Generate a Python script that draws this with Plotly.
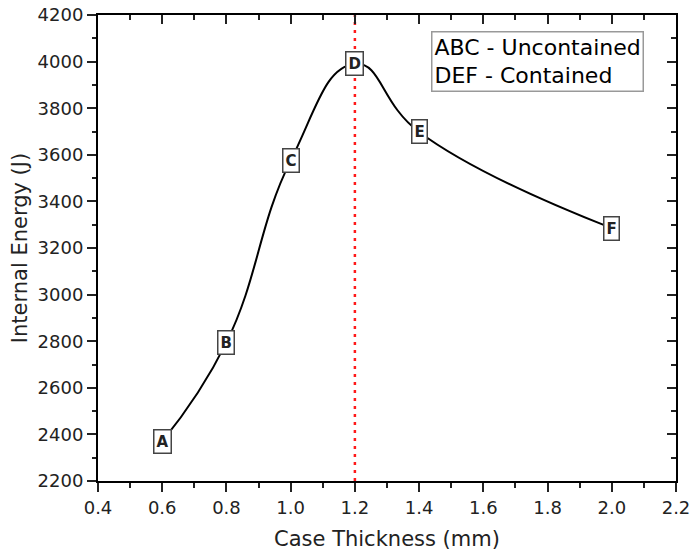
import plotly.graph_objects as go

# Data
point_labels = ["A", "B", "C", "D", "E", "F"]
thickness = [0.6, 0.8, 1.0, 1.2, 1.4, 2.0]
energy = [2370, 2795, 3575, 3990, 3698, 3285]
x_ticks = [0.4, 0.6, 0.8, 1.0, 1.2, 1.4, 1.6, 1.8, 2.0, 2.2]
y_ticks = [2200, 2400, 2600, 2800, 3000, 3200, 3400, 3600, 3800, 4000, 4200]
note_lines = ["ABC - Uncontained", "DEF - Contained"]

FONT = "DejaVu Sans"
peak_x = thickness[energy.index(max(energy))]

fig = go.Figure()

fig.add_trace(go.Scatter(
    x=thickness, y=energy, mode="lines",
    line=dict(color="black", width=2, shape="spline", smoothing=1.3),
    showlegend=False, hoverinfo="skip",
))
# dummy trace for top/right mirrored inside ticks
fig.add_trace(go.Scatter(
    x=thickness, y=energy, mode="markers", xaxis="x2", yaxis="y2",
    marker=dict(opacity=0), showlegend=False, hoverinfo="skip",
))

# red dotted vertical line at peak
fig.add_shape(type="line", x0=peak_x, x1=peak_x, y0=0, y1=1,
              xref="x", yref="paper", layer="below",
              line=dict(color="#ff1a1a", width=2.5, dash="3px,5px"))

# boxed point labels
for lab, xv, yv in zip(point_labels, thickness, energy):
    fig.add_annotation(
        x=xv, y=yv, text=f"<b>{lab}</b>", showarrow=False,
        font=dict(family=FONT, size=15, color="#222"),
        bgcolor="white", bordercolor="#444", borderwidth=1.5, borderpad=2,
    )

# note box
fig.add_annotation(
    x=0.576, y=0.966, xref="paper", yref="paper", xanchor="left", yanchor="top",
    text="<br>".join(note_lines), align="left", showarrow=False,
    font=dict(family=FONT, size=22, color="black"),
    bgcolor="white", bordercolor="#999", borderwidth=1.5, borderpad=2,
)

axis_common = dict(
    showgrid=False, zeroline=False, automargin=False,
    linecolor="black", linewidth=2,
    ticks="outside", ticklen=9, tickwidth=2, tickcolor="#222",
    tickfont=dict(family=FONT, size=18, color="#222"),
)

fig.update_layout(
    width=691, height=554,
    margin=dict(l=98, r=15, t=15, b=73),
    paper_bgcolor="white", plot_bgcolor="white",
    font=dict(family=FONT, color="#222"),
    showlegend=False,
    xaxis=dict(
        **axis_common,
        range=[x_ticks[0], x_ticks[-1]], tickvals=x_ticks, tickformat=".1f",
        mirror=True,
        minor=dict(ticks="outside", ticklen=4.5, tickwidth=2, tickcolor="#222", dtick=0.1),
        title=dict(text="Case Thickness (mm)", font=dict(family=FONT, size=21, color="#222"), standoff=15),
    ),
    yaxis=dict(
        **axis_common,
        range=[y_ticks[0], y_ticks[-1]], tickvals=y_ticks,
        mirror=True,
        minor=dict(ticks="outside", ticklen=4.5, tickwidth=2, tickcolor="#222", dtick=100),
        title=dict(text="Internal Energy (J)", font=dict(family=FONT, size=21, color="#222"), standoff=4),
    ),
    xaxis2=dict(
        overlaying="x", side="top", range=[x_ticks[0], x_ticks[-1]], tickvals=x_ticks,
        showgrid=False, zeroline=False, showline=False, showticklabels=False, automargin=False,
        ticks="inside", ticklen=9, tickwidth=2, tickcolor="#222",
        minor=dict(ticks="inside", ticklen=5, tickwidth=2, tickcolor="#222", dtick=0.1),
    ),
    yaxis2=dict(
        overlaying="y", side="right", range=[y_ticks[0], y_ticks[-1]], tickvals=y_ticks,
        showgrid=False, zeroline=False, showline=False, showticklabels=False, automargin=False,
        ticks="inside", ticklen=9, tickwidth=2, tickcolor="#222",
        minor=dict(ticks="inside", ticklen=5, tickwidth=2, tickcolor="#222", dtick=100),
    ),
)

fig.write_html("out.html")
